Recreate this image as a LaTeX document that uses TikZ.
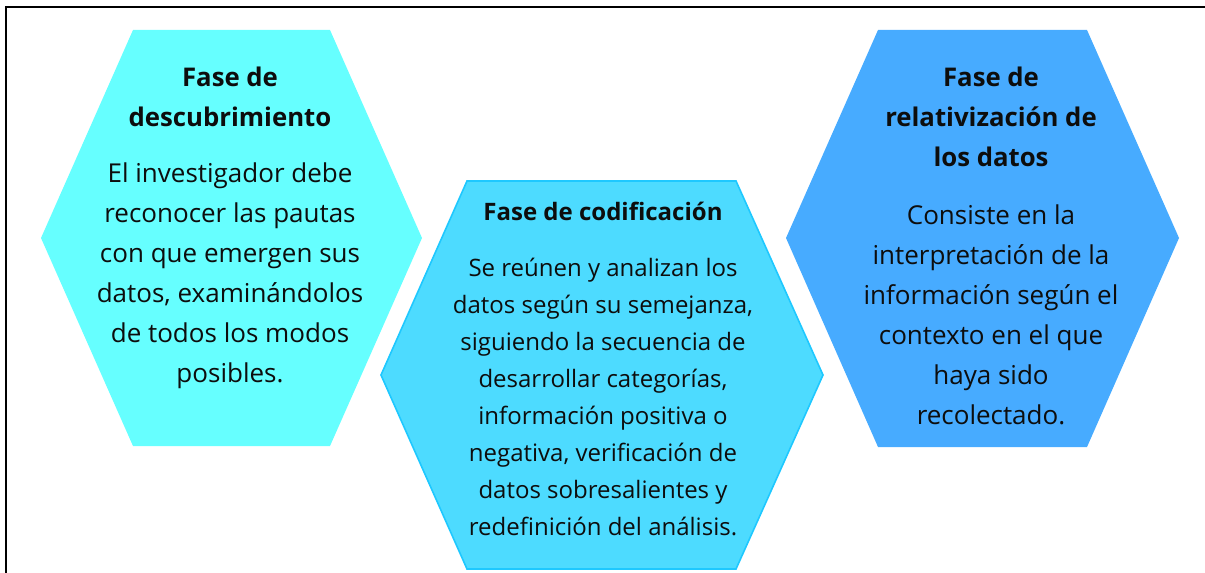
\documentclass[tikz,border=0pt]{standalone}
\usepackage{fontspec}
\setmainfont{Open Sans}
\definecolor{fasecyan}{HTML}{66FFFF}
\definecolor{fasesky}{HTML}{4DDBFF}
\definecolor{faseskyline}{HTML}{1EC8FF}
\definecolor{faseblue}{HTML}{47ABFF}
\tikzset{
  titletext/.style={align=center, inner sep=0pt, text=black!95,
    font=\bfseries\fontsize{19.3}{30}\selectfont},
  titlesmall/.style={titletext, font=\bfseries\fontsize{18}{30}\selectfont},
  bodytext/.style={align=center, inner sep=0pt, text=black!95,
    font=\fontsize{19.5}{30}\selectfont},
  bodysmall/.style={bodytext, font=\fontsize{18}{27.75}\selectfont},
}
\begin{document}
\begin{tikzpicture}[x=0.75pt,y=-0.75pt]
			\useasboundingbox (0,0) rectangle (1205,573);
			\draw[line width=1.5pt] (6,573) -- (6,7) -- (1205,7);
			
			\fill[fasecyan] (133,30) -- (330,30) -- (422,238) -- (330,446) -- (133,446) -- (41,238) -- cycle;
			\filldraw[fill=fasesky, draw=faseskyline, line width=1.2pt] (467,181) -- (736,181) -- (823,375) -- (736,569) -- (467,569) -- (381,375) -- cycle;
			\fill[faseblue] (878,30) -- (1087,30) -- (1179,238) -- (1087,447) -- (878,447) -- (786,238) -- cycle;
			
			\node[titletext] (descub-t) at (230, 97) {Fase de\\descubrimiento};
			\node[bodytext]  (descub-b) at (230, 276) {El investigador debe\\reconocer las pautas\\con que emergen sus\\datos, examinándolos\\de todos los modos\\posibles.};
			
			\node[titlesmall] (codif-t) at (603, 211) {Fase de codificación};
			\node[bodysmall] (codif-b) at (603, 397) {Se reúnen y analizan los\\datos según su semejanza,\\siguiendo la secuencia de\\desarrollar categorías,\\información positiva o\\negativa, verificación de\\datos sobresalientes y\\redefinición del análisis.};
			
			\node[titletext] (relat-t) at (991, 117) {Fase de\\relativización de\\los datos};
			\node[bodytext]  (relat-b) at (991, 315) {Consiste en la\\interpretación de la\\información según el\\contexto en el que\\haya sido\\recolectado.};
\end{tikzpicture}
\end{document}
